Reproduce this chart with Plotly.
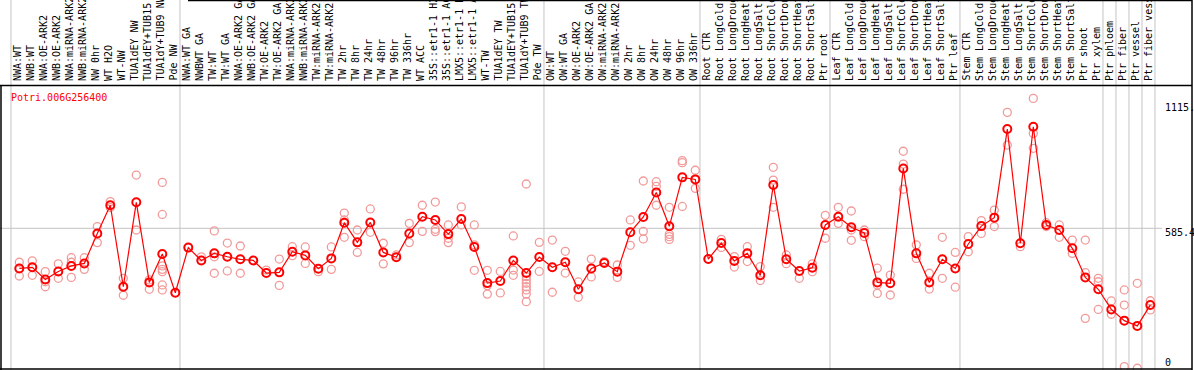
import plotly.graph_objects as go

gene_name = "Potri.006G256400"

labels = [
    "NWA:WT", "NWB:WT", "NWA:OE-ARK2", "NWB:OE-ARK2", "NWA:miRNA-ARK2", "NWB:miRNA-ARK2",
    "NW 0hr", "WT H2O", "WT-NW", "TUA1dEY NW", "TUA1dEY+TUB15", "TUA1dY+TUB9 NW", "Pde NW",
    "NWA:WT GA", "NWBWT GA", "TW:WT", "TW:WT GA", "NWA:OE-ARK2 GA", "NWB:OE-ARK2 GA",
    "TW:OE-ARK2", "TW:OE-ARK2 GA", "NWA:miRNA-ARK2", "NWB:miRNA-ARK2", "TW:miRNA-ARK2",
    "TW:miRNA-ARK2", "TW 2hr", "TW 8hr", "TW 24hr", "TW 48hr", "TW 96hr", "TW 336hr",
    "WT ACC", "35S::etr1-1 H2O", "35S::etr1-1 ACC", "LMX5::etr1-1 H2O", "LMX5::etr1-1 ACC",
    "WT-TW", "TUA1dEY TW", "TUA1dEY+TUB15", "TUA1dY+TUB9 TW", "Pde TW",
    "OW:WT", "OW:WT GA", "OW:OE-ARK2", "OW:OE-ARK2 GA", "OW:miRNA-ARK2", "OW:miRNA-ARK2",
    "OW 2hr", "OW 8hr", "OW 24hr", "OW 48hr", "OW 96hr", "OW 336hr",
    "Root CTR", "Root LongCold", "Root LongDrought", "Root LongHeat", "Root LongSalt",
    "Root ShortCold", "Root ShortDrought", "Root ShortHeat", "Root ShortSalt", "Ptr root",
    "Leaf CTR", "Leaf LongCold", "Leaf LongDrought", "Leaf LongHeat", "Leaf LongSalt",
    "Leaf ShortCold", "Leaf ShortDrought", "Leaf ShortHeat", "Leaf ShortSalt", "Ptr leaf",
    "Stem CTR", "Stem LongCold", "Stem LongDrought", "Stem LongHeat", "Stem LongSalt",
    "Stem ShortCold", "Stem ShortDrought", "Stem ShortHeat", "Stem ShortSalt", "Ptr shoot",
    "Ptr xylem", "Ptr phloem", "Ptr fiber", "Ptr vessel", "Ptr fiber vessel",
]

means = [
    410, 415, 362, 397, 421, 432, 563, 686, 330, 699, 349, 473, 304,
    501, 445, 476, 461, 450, 445, 390, 393, 483, 467, 409, 454, 610, 524, 611, 480, 459,
    563, 636, 622, 560, 626, 504, 346, 355, 445, 390, 460,
    415, 437, 319, 410, 434, 396, 568, 635, 742, 594, 808, 799,
    451, 521, 443, 476, 380, 775, 450, 399, 413, 600,
    636, 590, 565, 349, 345, 847, 476, 349, 450, 410,
    517, 595, 632, 1019, 520, 1029, 600, 578, 498, 371,
    319, 231, 182, 159, 250,
]

replicates = [
    [437, 410, 377], [443, 415, 380], [396, 352, 330], [430, 367], [457, 437, 371],
    [457, 406], [593, 523], [702, 676], [367, 293], [818, 578], [360, 319],
    [786, 646, 421, 406, 396, 338, 316], [304],
    [501], [461, 445], [574, 461, 389], [521, 399], [508, 389], [445], [403],
    [451, 336], [505, 466], [504, 432], [396], [504, 406], [652, 622, 546], [578, 480],
    [670, 568], [520, 430], [469],
    [607, 523], [686, 572], [700, 581, 571], [600, 542, 523], [679, 600],
    [600, 513, 402], [402, 335, 298], [397, 303], [552, 403, 380],
    [779, 374, 360, 345, 330, 316, 298, 265], [524, 397],
    [534, 306], [485, 390], [351, 284], [451, 373], [440], [425, 371], [622, 511],
    [792, 572, 539], [789, 769, 686], [677, 559, 549, 537], [881, 872, 681], [839, 760],
    [451], [537, 502], [462, 416], [505, 440], [418, 357], [852, 796, 677], [469, 431],
    [367], [430, 396], [642, 542],
    [677, 607], [661, 578, 533], [578, 549], [411, 338, 301], [381, 294],
    [922, 866, 756], [513, 454], [389, 320], [546, 367], [480, 328],
    [549, 483], [619, 563], [665, 593], [1092, 949], [505], [1153, 1000, 935],
    [610, 593], [600, 546], [534, 476], [534, 392, 192],
    [367, 352, 231], [268, 210], [316, 250, -19], [345, -26], [269, 229],
]

group_starts = [0, 13, 41, 53, 63, 73, 84, 85, 86, 87, 88]
y_ticks = [0, 585.4, 1115]
y_tick_text = ["0", "585.4", "1115."]

W, H = 1194, 370
X0, DX = 19.3, 13.0          # pixel of first category, pixel step
Y0, SY = 362.3, 0.2289        # pixel of value 0, pixels per unit

x_range = [-X0 / DX, (W - X0) / DX]
y_range = [(Y0 - H) / SY, Y0 / SY]

rep_x, rep_y = [], []
for i, reps in enumerate(replicates):
    for v in reps:
        rep_x.append(i)
        rep_y.append(v)

fig = go.Figure()
fig.add_trace(go.Scatter(
    x=rep_x, y=rep_y, mode="markers",
    marker=dict(symbol="circle-open", size=8, color="#f29a9a", line=dict(width=1.3)),
    hoverinfo="skip", showlegend=False, cliponaxis=False,
))
fig.add_trace(go.Scatter(
    x=list(range(len(means))), y=means, mode="lines+markers",
    line=dict(color="#ff0000", width=1.2),
    marker=dict(symbol="circle-open", size=8, color="#ff0000", line=dict(width=2)),
    showlegend=False, cliponaxis=False,
))

shapes = []
grey = "#c4c4c4"
for b in group_starts:
    shapes.append(dict(type="line", xref="x", yref="paper", x0=b - 0.64, x1=b - 0.64,
                       y0=0, y1=1, line=dict(color=grey, width=1), layer="below"))
shapes.append(dict(type="line", xref="paper", yref="y", x0=0, x1=1162 / W,
                   y0=585.4, y1=585.4, line=dict(color=grey, width=1), layer="below"))
# black frame lines
def hline(py, x0p, x1p):
    return dict(type="line", xref="paper", yref="paper", x0=x0p / W, x1=x1p / W,
                y0=1 - py / H, y1=1 - py / H, line=dict(color="black", width=1.5))
def vline(px, y0p, y1p):
    return dict(type="line", xref="paper", yref="paper", x0=px / W, x1=px / W,
                y0=1 - y0p / H, y1=1 - y1p / H, line=dict(color="black", width=1.5))
shapes += [hline(85.5, 0, 1192), hline(369, 0, 1192), hline(0.5, 188, 1192),
           vline(1, 85.5, 370), vline(1192, 0, 370)]

annotations = []
mono = "DejaVu Sans Mono"
for i, lab in enumerate(labels):
    annotations.append(dict(
        x=i - 0.17, xref="x", y=1 - 83 / H, yref="paper", text=lab, textangle=-90,
        xanchor="center", yanchor="bottom", showarrow=False,
        font=dict(family=mono, size=10, color="black"),
    ))
annotations.append(dict(
    x=9 / W, xref="paper", y=1 - 97 / H, yref="paper", text=gene_name,
    xanchor="left", yanchor="middle", showarrow=False,
    font=dict(family=mono, size=10, color="#ff0000"),
))
for v, t in zip(y_ticks, y_tick_text):
    annotations.append(dict(
        x=1163 / W, xref="paper", y=v, yref="y", text=t, xanchor="left", yanchor="middle",
        yshift=-4 if t == "585.4" else 0, showarrow=False,
        font=dict(family=mono, size=10, color="black"),
    ))

fig.update_layout(
    width=W, height=H, autosize=False,
    margin=dict(l=0, r=0, t=0, b=0, pad=0),
    paper_bgcolor="white", plot_bgcolor="white",
    xaxis=dict(range=x_range, visible=False, showgrid=False, zeroline=False),
    yaxis=dict(range=y_range, visible=False, showgrid=False, zeroline=False),
    shapes=shapes, annotations=annotations, hovermode=False,
)

fig.write_html("out.html", config={"displayModeBar": False},
               post_script="document.body.style.margin='0';document.body.style.overflow='hidden';")
